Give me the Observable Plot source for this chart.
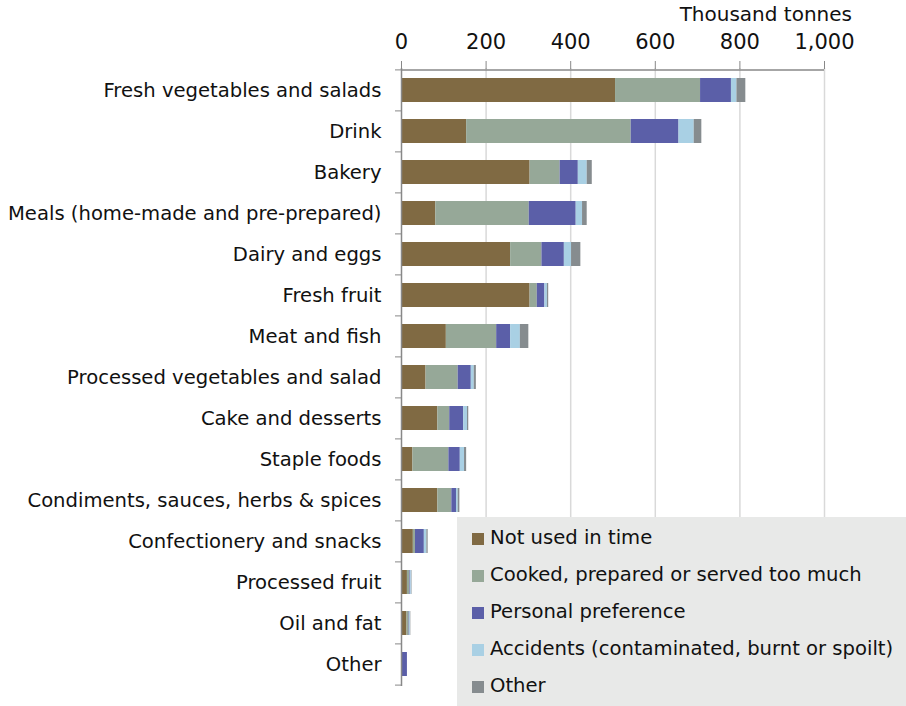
<!DOCTYPE html>
<html>
<head>
<meta charset="utf-8">
<script src="https://cdn.jsdelivr.net/npm/d3@7"></script>
<script src="https://cdn.jsdelivr.net/npm/@observablehq/plot@0.6"></script>
<style>
  html, body { margin: 0; padding: 0; background: #fff; }
  #wrap { position: relative; width: 906px; height: 706px; font-family: "DejaVu Sans", sans-serif; color: #111; }
  #unit { position: absolute; right: 54px; top: 2px; font-size: 20px; }
  #legend { position: absolute; left: 457px; top: 517px; width: 449px; height: 189px; background: #e8e9e8; font-size: 19.6px; }
  .item { position: absolute; left: 15px; height: 22px; line-height: 22px; white-space: nowrap; }
  .sw { display: inline-block; width: 12px; height: 12px; margin-right: 6px; vertical-align: -1px; }
</style>
</head>
<body>
<div id="wrap">
  <div id="chart"></div>
  <div id="unit">Thousand tonnes</div>
  <div id="legend"></div>
</div>
<script>
const categories = [
  "Fresh vegetables and salads", "Drink", "Bakery", "Meals (home-made and pre-prepared)",
  "Dairy and eggs", "Fresh fruit", "Meat and fish", "Processed vegetables and salad",
  "Cake and desserts", "Staple foods", "Condiments, sauces, herbs & spices",
  "Confectionery and snacks", "Processed fruit", "Oil and fat", "Other"
];
const causes = [
  "Not used in time", "Cooked, prepared or served too much", "Personal preference",
  "Accidents (contaminated, burnt or spoilt)", "Other"
];
const colors = ["#806a43", "#96a898", "#5b5fa8", "#a9d0e4", "#868c8f"];

const notUsedInTime      = [506, 154, 304,  81, 258, 304, 106, 58, 86, 27, 86, 28, 14, 13,  0];
const cookedTooMuch      = [201, 389,  71, 221,  74,  17, 119, 76, 28, 85, 33,  5,  6,  5,  0];
const personalPreference = [ 73, 113,  43, 111,  53,  18,  33, 31, 33, 27, 11, 21,  2,  1, 14];
const accidents          = [ 13,  36,  21,  15,  17,   6,  23,  7,  9, 10,  4,  6,  2,  2,  0];
const otherCause         = [ 21,  18,  12,  11,  22,   3,  20,  5,  3,  5,  4,  3,  1,  1,  0];
const xTicks = [0, 200, 400, 600, 800, 1000];

const series = [notUsedInTime, cookedTooMuch, personalPreference, accidents, otherCause];
const data = [];
categories.forEach((c, i) => {
  causes.forEach((k, j) => data.push({category: c, cause: k, value: series[j][i]}));
});

const width = 906, height = 706, marginTop = 68, marginBottom = 20;
const step = (height - marginTop - marginBottom) / categories.length;
const font = "DejaVu Sans, sans-serif";

const chart = Plot.plot({
  width, height,
  marginTop, marginBottom,
  marginLeft: 401, marginRight: 82,
  style: {fontFamily: font, fontSize: "19.6px", color: "#111", background: "#fff", overflow: "visible"},
  x: {domain: [0, 1000]},
  y: {domain: categories, paddingInner: 0.42, paddingOuter: 0.21},
  color: {domain: causes, range: colors},
  marks: [
    Plot.gridX(xTicks.slice(1), {stroke: "#d9d9d9", strokeOpacity: 1, strokeWidth: 1.5}),
    Plot.barX(data, {x: "value", y: "category", fill: "cause"}),
    Plot.ruleX([0], {stroke: "#888", strokeWidth: 1.5}),
    Plot.ruleY([categories[0]], {x1: 0, x2: 1000, dy: -step / 2, stroke: "#888", strokeWidth: 1.5}),
    Plot.axisX({anchor: "top", ticks: xTicks, tickSize: 8, tickPadding: 12, tickFormat: d3.format(","),
      stroke: "#888", fontSize: 21, label: null}),
    Plot.axisY({tickSize: 0, tickPadding: 20, label: null, fontSize: 19.6}),
    Plot.axisY({text: null, tickSize: 6, dy: -step / 2, stroke: "#888", label: null}),
    Plot.axisY({text: null, tickSize: 6, dy: step / 2, ticks: [categories[categories.length - 1]], stroke: "#888", label: null})
  ]
});
document.getElementById("chart").appendChild(chart);

const legend = document.getElementById("legend");
causes.forEach((k, j) => {
  const div = document.createElement("div");
  div.className = "item";
  div.style.top = (10 + j * 37) + "px";
  div.innerHTML = `<span class="sw" style="background:${colors[j]}"></span>${k}`;
  legend.appendChild(div);
});
</script>
</body>
</html>
